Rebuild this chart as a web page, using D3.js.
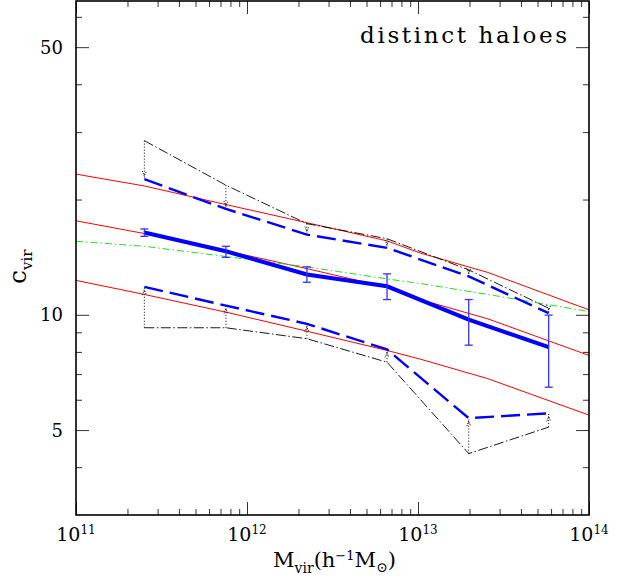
<!DOCTYPE html>
<html>
<head>
<meta charset="utf-8">
<script src="https://cdn.jsdelivr.net/npm/d3@7"></script>
<style>
  body { margin: 0; background: #fff; }
  text { font-family: "DejaVu Serif", serif; fill: #000; }
</style>
</head>
<body>
<div id="chart"></div>
<script>
// halo mass bins (h^-1 Msun)
var massBins = [2.51e11, 7.53e11, 2.24e12, 6.59e12, 1.98e13, 5.81e13];
var medianC = [16.4, 14.65, 12.74, 11.87, 9.72, 8.23];
var errLo = [16.03, 14.13, 12.16, 10.96, 8.33, 6.47];
var errHi = [16.76, 15.1, 13.34, 12.79, 10.96, 9.98];
var upperBlue = [22.6, 18.9, 16.2, 14.95, 12.6, 10.1];
var lowerBlue = [11.83, 10.57, 9.47, 8.12, 5.37, 5.53];
var upperBlack = [28.5, 21.8, 17.3, 15.8, 13.1, 10.4];
var lowerBlack = [9.25, 9.25, 8.66, 7.52, 4.34, 5.09];

// model curves
var modelMass = [1e11, 2.51e11, 7.53e11, 2.24e12, 6.59e12, 1.03e13, 2.56e13, 1e14];
var redHi = [23.3, 21.7, 19.4, 17.4, 15.6, 14.5, 12.9, 10.3];
var redMid = [17.6, 16.3, 14.7, 13.2, 11.8, 10.96, 9.76, 7.83];
var redLo = [12.3, 11.3, 10.16, 9.06, 8.07, 7.66, 6.81, 5.47];
var greenC = [15.56, 15.1, 14.2, 13.34, 12.41, 12.07, 11.3, 10.2];

var yMajor = [5, 10, 50];
var yMinor = [4, 6, 7, 8, 9, 20, 30, 40, 60];
var xMajor = [1e11, 1e12, 1e13, 1e14];
var xExp = ["11", "12", "13", "14"];

var svgWidth = 618, svgHeight = 582;
var margin = {top: 1, right: 29, bottom: 67, left: 76};
var width = svgWidth - margin.left - margin.right;
var height = svgHeight - margin.top - margin.bottom;

var svg = d3.select('#chart').append('svg')
  .attr('width', svgWidth)
  .attr('height', svgHeight);

var g = svg.append('g')
  .attr('transform', `translate(${margin.left}, ${margin.top})`);

var x = d3.scaleLog().domain([1e11, 1e14]).range([0, width]);
var y = d3.scaleLog().domain([3, 66]).range([height, 0]);

var xMinor = [];
[1e11, 1e12, 1e13].forEach(function(d) {
  for (var k = 2; k <= 9; k++) xMinor.push(d * k);
});

// ticks on all four sides, pointing inwards
function ticks(axisFn, scale, vals, size, tr) {
  var a = g.append('g')
    .attr('transform', tr)
    .call(axisFn(scale).tickValues(vals).tickSize(size).tickFormat(''));
  a.select('.domain').remove();
  a.selectAll('line').attr('stroke', '#333').attr('stroke-width', 1);
}
ticks(d3.axisBottom, x, xMinor, -6, `translate(0,${height})`);
ticks(d3.axisBottom, x, xMajor, -13, `translate(0,${height})`);
ticks(d3.axisTop, x, xMinor, -6, 'translate(0,0)');
ticks(d3.axisTop, x, xMajor, -13, 'translate(0,0)');
ticks(d3.axisLeft, y, yMinor, -6, 'translate(0,0)');
ticks(d3.axisLeft, y, yMajor, -13, 'translate(0,0)');
ticks(d3.axisRight, y, yMinor, -6, `translate(${width},0)`);
ticks(d3.axisRight, y, yMajor, -13, `translate(${width},0)`);

var line = function(xs) {
  return d3.line().x(function(d, i) { return x(xs[i]); }).y(function(d) { return y(d); });
};

var clip = g.append('clipPath').attr('id', 'clip')
  .append('rect').attr('width', width).attr('height', height);
var plot = g.append('g').attr('clip-path', 'url(#clip)');

// red model lines
[redHi, redMid, redLo].forEach(function(s) {
  plot.append('path').attr('d', line(modelMass)(s))
    .attr('fill', 'none').attr('stroke', '#ff0000').attr('stroke-width', 1);
});

// green dash-dot
plot.append('path').attr('d', line(modelMass)(greenC))
  .attr('fill', 'none').attr('stroke', '#22dd22').attr('stroke-width', 1)
  .attr('stroke-dasharray', '7,3,1.5,3');

// black dash-dot
[upperBlack, lowerBlack].forEach(function(s) {
  plot.append('path').attr('d', line(massBins)(s))
    .attr('fill', 'none').attr('stroke', '#000').attr('stroke-width', 0.9)
    .attr('stroke-dasharray', '10,2.5,1.5,2.5');
});

// dotted arrows from black to blue dashed
function arrow(m, from, to) {
  var px = x(m), y0 = y(from), y1 = y(to);
  var dir = y1 > y0 ? 1 : -1;
  var tip = y1 - dir * 3;
  plot.append('line')
    .attr('x1', px).attr('x2', px).attr('y1', y0).attr('y2', y1)
    .attr('stroke', '#000').attr('stroke-width', 1).attr('stroke-dasharray', '1,2');
  plot.append('path')
    .attr('d', `M${px - 2},${tip - dir * 5}L${px},${tip}L${px + 2},${tip - dir * 5}`)
    .attr('fill', 'none').attr('stroke', '#000').attr('stroke-width', 1)
    .attr('stroke-dasharray', '1,1.2');
}
massBins.forEach(function(m, i) {
  arrow(m, upperBlack[i], upperBlue[i]);
  arrow(m, lowerBlack[i], lowerBlue[i]);
});

// blue dashed
[upperBlue, lowerBlue].forEach(function(s) {
  plot.append('path').attr('d', line(massBins)(s))
    .attr('fill', 'none').attr('stroke', '#0000ff').attr('stroke-width', 2.4)
    .attr('stroke-dasharray', '19,7');
});

// median, thick
plot.append('path').attr('d', line(massBins)(medianC))
  .attr('fill', 'none').attr('stroke', '#0000ff').attr('stroke-width', 4);

// error bars
var eb = plot.selectAll('.eb').data(massBins).enter().append('g')
  .attr('stroke', '#3333ff').attr('stroke-width', 1.3);
eb.append('line')
  .attr('x1', function(d) { return x(d); }).attr('x2', function(d) { return x(d); })
  .attr('y1', function(d, i) { return y(errLo[i]); })
  .attr('y2', function(d, i) { return y(errHi[i]); });
eb.append('line')
  .attr('x1', function(d) { return x(d) - 4; }).attr('x2', function(d) { return x(d) + 4; })
  .attr('y1', function(d, i) { return y(errLo[i]); })
  .attr('y2', function(d, i) { return y(errLo[i]); });
eb.append('line')
  .attr('x1', function(d) { return x(d) - 4; }).attr('x2', function(d) { return x(d) + 4; })
  .attr('y1', function(d, i) { return y(errHi[i]); })
  .attr('y2', function(d, i) { return y(errHi[i]); });

// frame
g.append('rect').attr('width', width).attr('height', height)
  .attr('fill', 'none').attr('stroke', '#000').attr('stroke-width', 1.6);

// y tick labels
g.selectAll('.ylab').data(yMajor).enter().append('text')
  .attr('x', -13).attr('y', function(d) { return y(d); })
  .attr('dy', '0.36em')
  .attr('text-anchor', 'end')
  .style('font-size', '18px')
  .text(function(d) { return d; });

// x tick labels with exponents
xMajor.forEach(function(d, i) {
  var t = g.append('text')
    .attr('x', x(d)).attr('y', height + 26)
    .attr('text-anchor', 'middle')
    .style('font-size', '19px');
  t.append('tspan').text('10');
  t.append('tspan').attr('dy', -7).style('font-size', '12px').text(xExp[i]);
});

// axis titles
var xt = svg.append('text')
  .attr('x', margin.left + width / 2 + 2).attr('y', 567)
  .attr('text-anchor', 'middle')
  .style('font-size', '21px');
xt.append('tspan').text('M');
xt.append('tspan').attr('dy', 6).style('font-size', '14px').text('vir');
xt.append('tspan').attr('dy', -6).text('(h');
xt.append('tspan').attr('dy', -7).style('font-size', '13px').text('\u22121');
xt.append('tspan').attr('dy', 7).text('M');
xt.append('tspan').attr('dy', 5).style('font-size', '14px').text('\u2299');
xt.append('tspan').attr('dy', -5).text(')');

var yt = svg.append('text')
  .attr('transform', 'translate(26, 284) rotate(-90)')
  .attr('text-anchor', 'start')
  .style('font-size', '25px');
yt.append('tspan').text('c');
yt.append('tspan').attr('dy', 6).style('font-size', '15px').text('vir');

// label
svg.append('text')
  .attr('x', 567).attr('y', 43)
  .attr('text-anchor', 'end')
  .attr('textLength', 207)
  .attr('lengthAdjust', 'spacing')
  .style('font-size', '23px')
  .text('distinct haloes');
</script>
</body>
</html>
